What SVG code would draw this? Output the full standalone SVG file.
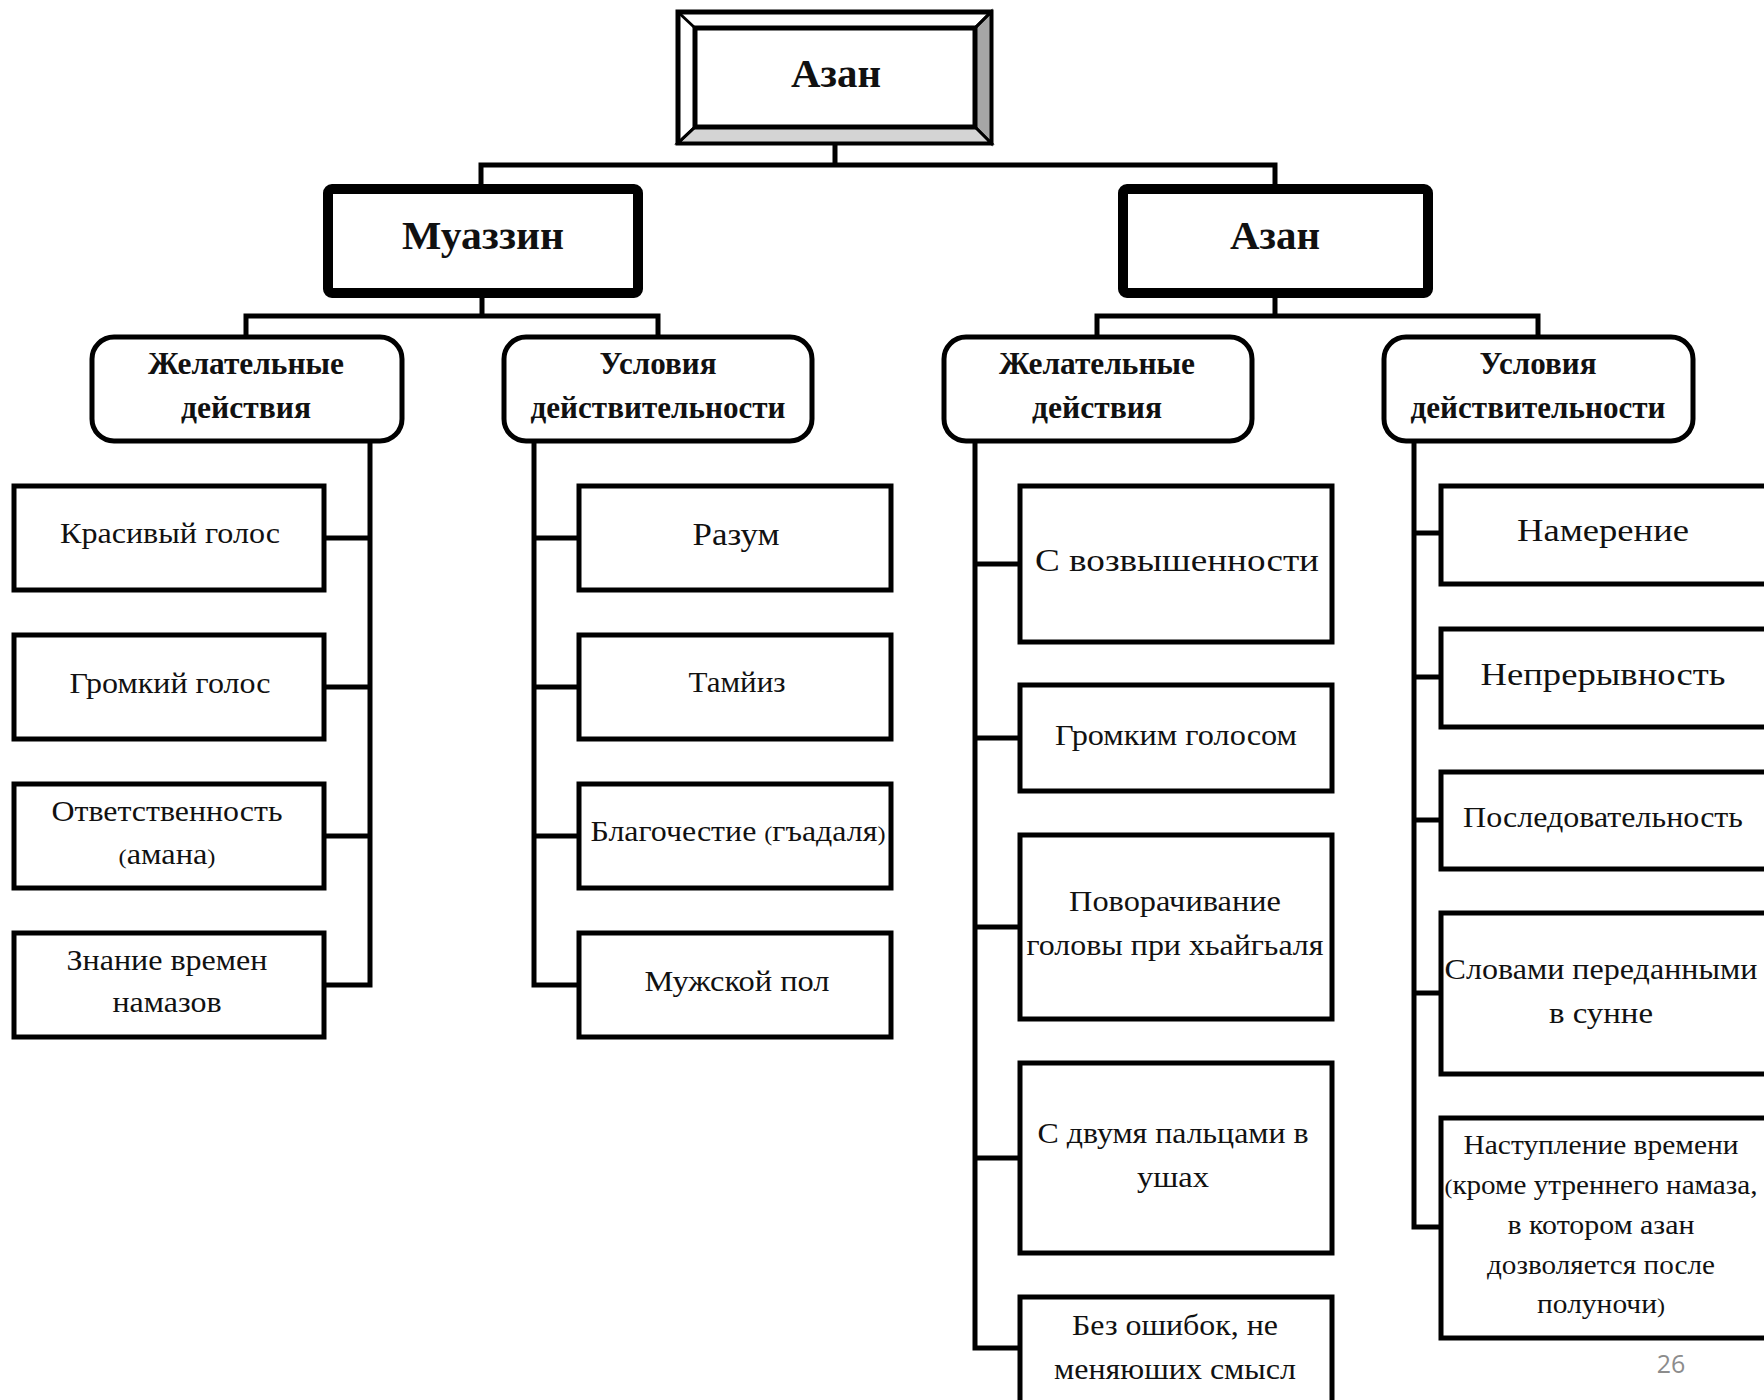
<svg xmlns="http://www.w3.org/2000/svg" width="1764" height="1400" viewBox="0 0 1764 1400">
<style>
.leaf{fill:#fff;stroke:#000;stroke-width:5}
.cat{fill:#fff;stroke:#000;stroke-width:5}
.main{fill:#fff;stroke:#000;stroke-width:10}
.con{fill:none;stroke:#000;stroke-width:5;stroke-linejoin:miter;stroke-linecap:square}
.t{font-family:"Liberation Serif",serif;font-size:29px;fill:#111;text-anchor:middle}
.tb{font-family:"Liberation Serif",serif;font-size:32px;font-weight:bold;fill:#111;text-anchor:middle}
.tm{font-family:"Liberation Serif",serif;font-size:40px;font-weight:bold;fill:#111;text-anchor:middle}
.p{font-size:22px}
</style>
<rect width="1764" height="1400" fill="#fff"/>
<g id="connectors">
<path class="con" d="M835,143 V165 M481,165 H1275 M481,165 V186 M1275,165 V186"/>
<path class="con" d="M482,297 V316 M246,316 H658 M246,316 V336 M658,316 V336"/>
<path class="con" d="M1275,297 V316 M1097,316 H1538 M1097,316 V336 M1538,316 V336"/>
<path class="con" d="M370,442 V985 M324,538 H370 M324,687 H370 M324,836 H370 M324,985 H370"/>
<path class="con" d="M534,442 V985 H579 M534,538 H579 M534,687 H579 M534,836 H579"/>
<path class="con" d="M975,442 V1348 H1019 M975,564 H1019 M975,738 H1019 M975,927 H1019 M975,1158 H1019"/>
<path class="con" d="M1414,442 V1227 H1441 M1414,533 H1441 M1414,677 H1441 M1414,820 H1441 M1414,993 H1441"/>
</g>
<g id="n-azan-top">
<rect x="678" y="12" width="313" height="131" fill="#fff" stroke="#000" stroke-width="5"/>
<polygon points="975,28 991,12 991,143 975,127" fill="#a6a6a6" stroke="#000" stroke-width="3"/>
<polygon points="695,127 975,127 991,143 678,143" fill="#d4d4d4" stroke="#000" stroke-width="3"/>
<line x1="678" y1="12" x2="695" y2="28" stroke="#000" stroke-width="3"/>
<line x1="991" y1="12" x2="975" y2="28" stroke="#000" stroke-width="3"/>
<line x1="678" y1="143" x2="695" y2="127" stroke="#000" stroke-width="3"/>
<rect x="695" y="28" width="280" height="99" fill="#fff" stroke="#000" stroke-width="5"/>
<text class="tm" x="836" y="87" textLength="90" lengthAdjust="spacingAndGlyphs">Азан</text>
</g>
<g id="n-muazzin">
<rect class="main" x="328" y="189" width="310" height="104" rx="4"/>
<text class="tm" x="483" y="249" textLength="162" lengthAdjust="spacingAndGlyphs">Муаззин</text>
</g>
<g id="n-azan">
<rect class="main" x="1123" y="189" width="305" height="104" rx="4"/>
<text class="tm" x="1275" y="249" textLength="90" lengthAdjust="spacingAndGlyphs">Азан</text>
</g>
<g id="n-m-zhel">
<rect class="cat" x="92" y="337" width="310" height="104" rx="22"/>
<text class="tb" x="246" y="374" textLength="196" lengthAdjust="spacingAndGlyphs">Желательные</text>
<text class="tb" x="246" y="418" textLength="130" lengthAdjust="spacingAndGlyphs">действия</text>
</g>
<g id="n-m-usl">
<rect class="cat" x="504" y="337" width="308" height="104" rx="22"/>
<text class="tb" x="658" y="374" textLength="117" lengthAdjust="spacingAndGlyphs">Условия</text>
<text class="tb" x="658" y="418" textLength="255" lengthAdjust="spacingAndGlyphs">действительности</text>
</g>
<g id="n-a-zhel">
<rect class="cat" x="944" y="337" width="308" height="104" rx="22"/>
<text class="tb" x="1097" y="374" textLength="196" lengthAdjust="spacingAndGlyphs">Желательные</text>
<text class="tb" x="1097" y="418" textLength="130" lengthAdjust="spacingAndGlyphs">действия</text>
</g>
<g id="n-a-usl">
<rect class="cat" x="1384" y="337" width="309" height="104" rx="22"/>
<text class="tb" x="1538" y="374" textLength="117" lengthAdjust="spacingAndGlyphs">Условия</text>
<text class="tb" x="1538" y="418" textLength="255" lengthAdjust="spacingAndGlyphs">действительности</text>
</g>
<g id="n-krasivyi">
<rect class="leaf" x="14" y="486" width="310" height="104"/>
<text class="t" x="170" y="543" textLength="220" lengthAdjust="spacingAndGlyphs">Красивый голос</text>
</g>
<g id="n-gromkii">
<rect class="leaf" x="14" y="635" width="310" height="104"/>
<text class="t" x="170" y="693" textLength="201" lengthAdjust="spacingAndGlyphs">Громкий голос</text>
</g>
<g id="n-otvetstv">
<rect class="leaf" x="14" y="784" width="310" height="104"/>
<text class="t" x="167" y="821" textLength="231" lengthAdjust="spacingAndGlyphs">Ответственность</text>
<text class="t" x="167" y="864" textLength="97" lengthAdjust="spacingAndGlyphs"><tspan class="p">(</tspan>амана<tspan class="p">)</tspan></text>
</g>
<g id="n-znanie">
<rect class="leaf" x="14" y="933" width="310" height="104"/>
<text class="t" x="167" y="970" textLength="201" lengthAdjust="spacingAndGlyphs">Знание времен</text>
<text class="t" x="167" y="1012" textLength="109" lengthAdjust="spacingAndGlyphs">намазов</text>
</g>
<g id="n-razum">
<rect class="leaf" x="579" y="486" width="312" height="104"/>
<text class="t" x="736" y="545" style="font-size:31px" textLength="87" lengthAdjust="spacingAndGlyphs">Разум</text>
</g>
<g id="n-tamyiz">
<rect class="leaf" x="579" y="635" width="312" height="104"/>
<text class="t" x="737" y="692" textLength="97" lengthAdjust="spacingAndGlyphs">Тамйиз</text>
</g>
<g id="n-blagoch">
<rect class="leaf" x="579" y="784" width="312" height="104"/>
<text class="t" x="738" y="841" textLength="295" lengthAdjust="spacingAndGlyphs">Благочестие <tspan class="p">(</tspan>гъадаля<tspan class="p">)</tspan></text>
</g>
<g id="n-muzhskoi">
<rect class="leaf" x="579" y="933" width="312" height="104"/>
<text class="t" x="737" y="991" textLength="185" lengthAdjust="spacingAndGlyphs">Мужской пол</text>
</g>
<g id="n-vozvysh">
<rect class="leaf" x="1020" y="486" width="312" height="156"/>
<text class="t" x="1177" y="571" style="font-size:31px" textLength="284" lengthAdjust="spacingAndGlyphs">С возвышенности</text>
</g>
<g id="n-gromkim">
<rect class="leaf" x="1020" y="685" width="312" height="106"/>
<text class="t" x="1176" y="745" textLength="242" lengthAdjust="spacingAndGlyphs">Громким голосом</text>
</g>
<g id="n-povorach">
<rect class="leaf" x="1020" y="835" width="312" height="184"/>
<text class="t" x="1175" y="911" textLength="212" lengthAdjust="spacingAndGlyphs">Поворачивание</text>
<text class="t" x="1175" y="955" textLength="297" lengthAdjust="spacingAndGlyphs">головы при хьайгьаля</text>
</g>
<g id="n-dvumya">
<rect class="leaf" x="1020" y="1063" width="312" height="190"/>
<text class="t" x="1173" y="1143" textLength="271" lengthAdjust="spacingAndGlyphs">С двумя пальцами в</text>
<text class="t" x="1173" y="1187" textLength="72" lengthAdjust="spacingAndGlyphs">ушах</text>
</g>
<g id="n-bez">
<rect class="leaf" x="1020" y="1297" width="312" height="120"/>
<text class="t" x="1175" y="1335" textLength="206" lengthAdjust="spacingAndGlyphs">Без ошибок, не</text>
<text class="t" x="1175" y="1379" textLength="242" lengthAdjust="spacingAndGlyphs">меняюших смысл</text>
</g>
<g id="n-namerenie">
<rect class="leaf" x="1441" y="486" width="340" height="98"/>
<text class="t" x="1603" y="541" style="font-size:31px" textLength="172" lengthAdjust="spacingAndGlyphs">Намерение</text>
</g>
<g id="n-nepreryv">
<rect class="leaf" x="1441" y="629" width="340" height="98"/>
<text class="t" x="1603" y="685" style="font-size:31px" textLength="245" lengthAdjust="spacingAndGlyphs">Непрерывность</text>
</g>
<g id="n-posled">
<rect class="leaf" x="1441" y="772" width="340" height="97"/>
<text class="t" x="1603" y="827" textLength="280" lengthAdjust="spacingAndGlyphs">Последовательность</text>
</g>
<g id="n-slovami">
<rect class="leaf" x="1441" y="913" width="340" height="161"/>
<text class="t" x="1601" y="979" textLength="313" lengthAdjust="spacingAndGlyphs">Словами переданными</text>
<text class="t" x="1601" y="1023" textLength="104" lengthAdjust="spacingAndGlyphs">в сунне</text>
</g>
<g id="n-nastuplenie">
<rect class="leaf" x="1441" y="1118" width="340" height="220"/>
<text class="t" x="1601" y="1154" style="font-size:27px" textLength="275" lengthAdjust="spacingAndGlyphs">Наступление  времени</text>
<text class="t" x="1601" y="1194" style="font-size:27px" textLength="313" lengthAdjust="spacingAndGlyphs"><tspan class="p">(</tspan>кроме утреннего намаза,</text>
<text class="t" x="1601" y="1234" style="font-size:27px" textLength="187" lengthAdjust="spacingAndGlyphs">в котором азан</text>
<text class="t" x="1601" y="1274" style="font-size:27px" textLength="228" lengthAdjust="spacingAndGlyphs">дозволяется после</text>
<text class="t" x="1601" y="1313" style="font-size:27px" textLength="128" lengthAdjust="spacingAndGlyphs">полуночи<tspan class="p">)</tspan></text>
</g>
<text x="1671" y="1373" style="font-family:'Open Sans',sans-serif;font-size:25px;fill:#8c8c8c;text-anchor:middle">26</text>
</svg>
